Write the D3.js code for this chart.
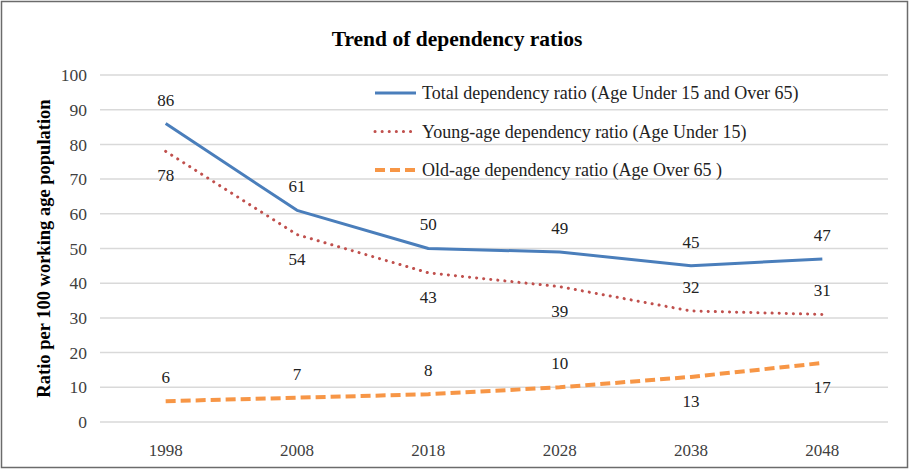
<!DOCTYPE html>
<html>
<head>
<meta charset="utf-8">
<script src="https://cdn.jsdelivr.net/npm/d3@7"></script>
<style>
  body { margin: 0; background: #fff; }
  svg { font-family: "Liberation Serif", "Times New Roman", serif; }
</style>
</head>
<body>
<div id="chart"></div>
<script>
const years = ["1998", "2008", "2018", "2028", "2038", "2048"];
const totalRatio = [86, 61, 50, 49, 45, 47];
const youngRatio = [78, 54, 43, 39, 32, 31];
const oldRatio = [6, 7, 8, 10, 13, 17];
const yTicks = [0, 10, 20, 30, 40, 50, 60, 70, 80, 90, 100];

// label above (-1) or below (+1) each point
const totalLabelSide = [-1, -1, -1, -1, -1, -1];
const youngLabelSide = [1, 1, 1, 1, -1, -1];
const oldLabelSide = [-1, -1, -1, -1, 1, 1];

const series = [
  { name: "Total dependency ratio (Age Under 15 and Over 65)", values: totalRatio,
    color: "#4a7ebb", width: 3, dash: null, cap: "butt", side: totalLabelSide },
  { name: "Young-age dependency ratio (Age Under 15)", values: youngRatio,
    color: "#c0504d", width: 3, dash: "0.1 7", cap: "round", side: youngLabelSide },
  { name: "Old-age dependency ratio (Age Over 65 )", values: oldRatio,
    color: "#f79646", width: 4, dash: "10 5", cap: "butt", side: oldLabelSide }
];

const W = 910, H = 470;
const margin = { top: 75, right: 22, bottom: 48, left: 100 };

const svg = d3.select("#chart").append("svg")
    .attr("width", W).attr("height", H);

svg.append("rect")
    .attr("x", 1.5).attr("y", 1.5)
    .attr("width", W - 4).attr("height", H - 4)
    .attr("fill", "#fff").attr("stroke", "#6b6b6b").attr("stroke-width", 1.5);

const x = d3.scalePoint()
    .domain(years)
    .range([margin.left, W - margin.right])
    .padding(0.5);

const y = d3.scaleLinear()
    .domain([0, 100])
    .range([H - margin.bottom, margin.top]);

// gridlines
svg.append("g").selectAll("line")
    .data(yTicks)
    .join("line")
    .attr("x1", margin.left).attr("x2", W - margin.right)
    .attr("y1", d => y(d)).attr("y2", d => y(d))
    .attr("stroke", "#d9d9d9").attr("stroke-width", 1.5);

// y tick labels
svg.append("g").selectAll("text")
    .data(yTicks)
    .join("text")
    .attr("x", 87).attr("y", d => y(d))
    .attr("dy", "0.35em")
    .attr("text-anchor", "end")
    .attr("font-size", 17.5).attr("fill", "#404040")
    .text(d => d);

// x tick labels
svg.append("g").selectAll("text")
    .data(years)
    .join("text")
    .attr("x", d => x(d)).attr("y", H - margin.bottom + 28)
    .attr("dy", "0.35em")
    .attr("text-anchor", "middle")
    .attr("font-size", 17).attr("fill", "#404040")
    .text(d => d);

// title
svg.append("text")
    .attr("x", W / 2 + 2).attr("y", 46)
    .attr("text-anchor", "middle")
    .attr("font-size", 21.5).attr("font-weight", "bold")
    .attr("fill", "#000")
    .text("Trend of dependency ratios");

// y axis title
svg.append("text")
    .attr("transform", `translate(50, ${y(50)}) rotate(-90)`)
    .attr("text-anchor", "middle")
    .attr("font-size", 18.5).attr("font-weight", "bold")
    .attr("fill", "#000")
    .text("Ratio per 100 working age population");

const line = d3.line()
    .x((d, i) => x(years[i]))
    .y(d => y(d));

series.forEach(s => {
  svg.append("path")
      .datum(s.values)
      .attr("d", line)
      .attr("fill", "none")
      .attr("stroke", s.color)
      .attr("stroke-width", s.width)
      .attr("stroke-linecap", s.cap)
      .attr("stroke-linejoin", "round")
      .attr("stroke-dasharray", s.dash);

  svg.append("g").selectAll("text")
      .data(s.values)
      .join("text")
      .attr("x", (d, i) => x(years[i]))
      .attr("y", (d, i) => y(d) + s.side[i] * 24)
      .attr("dy", "0.35em")
      .attr("text-anchor", "middle")
      .attr("font-size", 17).attr("fill", "#222")
      .text(d => d);
});

// legend
const legend = svg.append("g");
series.forEach((s, i) => {
  const ly = 93 + i * 38.5;
  legend.append("line")
      .attr("x1", 375).attr("x2", 416)
      .attr("y1", ly).attr("y2", ly)
      .attr("stroke", s.color)
      .attr("stroke-width", s.width)
      .attr("stroke-linecap", s.cap)
      .attr("stroke-dasharray", s.dash);
  legend.append("text")
      .attr("x", 422).attr("y", ly)
      .attr("dy", "0.35em")
      .attr("font-size", 18).attr("fill", "#222")
      .text(s.name);
});
</script>
</body>
</html>
